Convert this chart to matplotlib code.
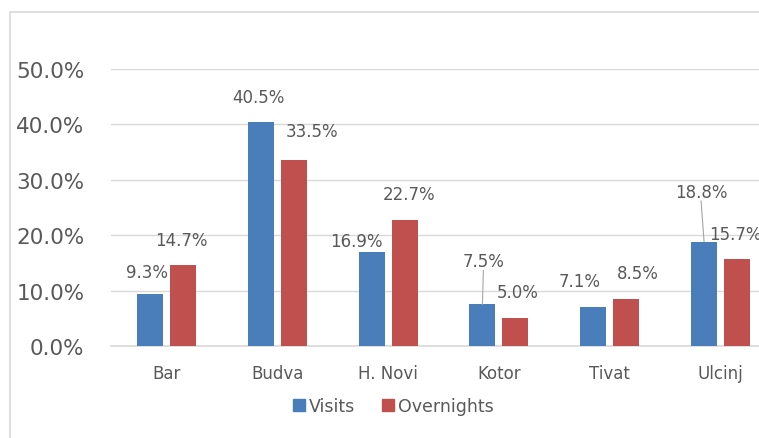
import matplotlib
matplotlib.use("Agg")
import matplotlib.pyplot as plt
from matplotlib.patches import Rectangle
from matplotlib.lines import Line2D
from matplotlib.ticker import PercentFormatter
import numpy as np

towns = ["Bar", "Budva", "H. Novi", "Kotor", "Tivat", "Ulcinj"]
visits = [9.3, 40.5, 16.9, 7.5, 7.1, 18.8]
overnights = [14.7, 33.5, 22.7, 5.0, 8.5, 15.7]

# manual label offsets (pixels from top of bar), as positioned in the original
visit_off = [(-3, 22), (-2, 25), (-15, 11), (1, 43), (-14, 26), (-3, 50)]
night_off = [(-2, 25), (18, 29), (4, 26), (2, 26), (12, 26), (-2, 25)]
leader = [False, False, False, True, False, True]

BLUE = "#4a7ebb"
RED = "#c0504d"
GREY = "#595959"
GRID = "#d9d9d9"

plt.rcParams["font.family"] = ["DejaVu Sans"]

fig = plt.figure(figsize=(7.59, 4.39), dpi=100)
ax = fig.add_axes([111 / 759, 92 / 439, 665 / 759, 277 / 439])

x = np.arange(len(towns))
w = 0.235
shift = 0.149
ax.bar(x - shift, visits, w, color=BLUE, zorder=3)
ax.bar(x + shift, overnights, w, color=RED, zorder=3)

ax.set_xlim(-0.5, len(towns) - 0.5)
ax.set_ylim(0, 50)
ax.set_yticks(np.arange(0, 51, 10))
ax.yaxis.set_major_formatter(PercentFormatter(decimals=1))
ax.grid(axis="y", color=GRID, linewidth=1, zorder=0)
ax.axhline(0, color=GRID, linewidth=1.2, zorder=2, clip_on=False)
for s in ["top", "right", "left", "bottom"]:
    ax.spines[s].set_visible(False)
ax.tick_params(axis="y", length=0, pad=19, labelsize=15.5, labelcolor=GREY)
ax.tick_params(axis="x", length=0, pad=13, labelsize=12, labelcolor=GREY)
ax.set_xticks(x)
ax.set_xticklabels(towns)

for i in range(len(towns)):
    for xb, val, off in [(x[i] - shift, visits[i], visit_off[i]),
                         (x[i] + shift, overnights[i], night_off[i])]:
        ax.annotate("%.1f%%" % val, (xb, val), xytext=off, textcoords="offset pixels",
                    ha="center", va="center", fontsize=12, color=GREY, zorder=4)
    if leader[i]:
        dx, dy = visit_off[i]
        ax.annotate("", (x[i] - shift, visits[i]), xytext=(dx, dy - 9),
                    textcoords="offset pixels",
                    arrowprops=dict(arrowstyle="-", color="#a6a6a6", lw=0.8,
                                    shrinkA=0, shrinkB=0))

handles = [Line2D([], [], marker="s", linestyle="", color=BLUE, markersize=8),
           Line2D([], [], marker="s", linestyle="", color=RED, markersize=8)]
fig.legend(handles, ["Visits", "Overnights"], loc="center",
           bbox_to_anchor=(393 / 759, 1 - 407 / 439), ncol=2, frameon=False,
           fontsize=12.5, labelcolor=GREY, handletextpad=0.15, columnspacing=1.5,
           handlelength=0.8)

fig.patches.append(Rectangle((10 / 759, -0.1), 1.2, 1.1 - 13 / 439,
                             transform=fig.transFigure, fill=False,
                             edgecolor=GRID, linewidth=1.2, clip_on=False))

fig.savefig("out.png", dpi=100)
